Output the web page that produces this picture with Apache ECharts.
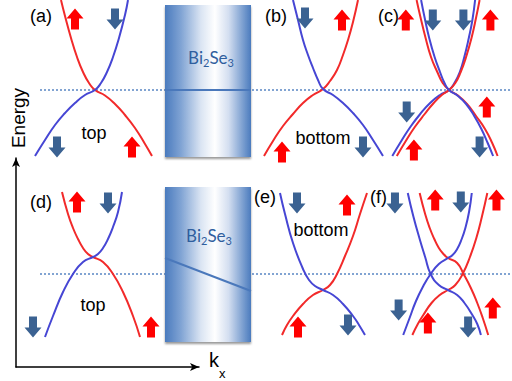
<!DOCTYPE html>
<html><head><meta charset="utf-8">
<script src="https://cdn.jsdelivr.net/npm/echarts@6/dist/echarts.min.js"></script>
<style>html,body{margin:0;padding:0;background:#fff}#c{width:512px;height:381px}</style>
</head><body><div id="c"></div>
<script>
// ---- data: band curves [k, E] per panel (k relative to Dirac centre, E relative to Fermi level) ----
const aRed  = [[-34,90],[-30,74],[-24,52],[-18,33],[-12,18],[-6,7],[0,0],[10,-5.5],[20,-14],[30,-25],[40,-38],[50,-54],[57,-66]];
const aBlue = [[-60,-66],[-50,-50],[-40,-35],[-30,-23],[-20,-13],[-10,-5],[0,0],[6,7],[12,18],[18,33],[24,52],[30,75],[33,90]];
const bBlue = [[-30,90],[-25,70],[-20,50],[-15,35],[-10,22],[-5,10],[0,1],[10,-5],[20,-13],[30,-23],[40,-35],[50,-50],[60,-66]];
const bRed  = [[-59,-66],[-50,-51],[-40,-36],[-30,-24],[-20,-13],[-10,-5],[0,1],[7,9],[14,20],[20,35],[25,50],[30,68],[35,90]];
const cRed1  = [[-36,90],[-32,74],[-26,52],[-20,33],[-13,18],[-7,7],[0,0],[10,-5.5],[20,-14],[30,-26],[40,-39],[48,-53],[54,-66]];
const cBlue1 = [[-63,-66],[-53,-51],[-43,-37],[-32,-24],[-21,-13],[-10,-5],[0,0],[6,7],[12,18],[17,33],[22,52],[26,70],[29,90]];
const cRed2  = [[-58,-66],[-48,-51],[-38,-37],[-27,-24],[-17,-13],[-8,-5],[0,0],[7,7],[13,18],[19,33],[25,52],[30,72],[34,90]];
const cBlue2 = [[-31,90],[-27,72],[-22,52],[-16,33],[-10,18],[-5,7],[0,0],[10,-6],[19,-14],[28,-26],[36,-39],[43,-53],[49,-66]];
const dRed  = [[-31,82],[-25,60],[-20,46],[-15,35],[-10,26],[-5,20],[0,17],[10,12],[20,0],[30,-18],[40,-42],[47,-63]];
const dBlue = [[-48,-63],[-40,-42],[-30,-18],[-20,0],[-10,12],[0,17],[5,20],[10,26],[15,35],[20,47],[25,62],[29,82]];
const eBlue = [[-43,81],[-38,60],[-30,31],[-20,5],[-14,-6],[-8,-12],[0,-16],[10,-21],[20,-30],[30,-42],[36,-51],[42,-61]];
const eRed  = [[-41,-61],[-36,-51],[-30,-42],[-20,-30],[-10,-21],[0,-16],[7,-11],[14,0],[22,18],[30,38],[37,60],[44,81]];
const fRed1  = [[-31,81],[-25,60],[-20,46],[-15,35],[-10,26],[-5,20],[0,16],[10,11],[17,0],[25,-14],[32,-29],[38,-44],[44,-61]];
const fBlue1 = [[-49,-61],[-42,-44],[-35,-27],[-27,-12],[-19,0],[-10,10],[0,16],[5,19],[10,25],[15,35],[19,46],[23,62],[26,81]];
const fRed2  = [[-39,-61],[-33,-50],[-27,-41],[-18,-29],[-9,-21],[0,-16],[8,-11],[16,0],[24,17],[31,36],[37,57],[43,81]];
const fBlue2 = [[-44,81],[-38,58],[-31,35],[-25,17],[-19,0],[-10,-11],[0,-16],[10,-21],[18,-29],[26,-40],[32,-50],[36,-61]];

// spin arrows (centre [k, E])
const aUp = [[-20,71],[37,-57]],  aDown = [[20,71],[-38,-57]];
const bUp = [[19,70],[-41,-62]],  bDown = [[-18,72],[40,-57]];
const cUp = [[-48,70],[46,70],[42,-17],[-39,-60]], cDown = [[-18,70],[16,70],[-47,-22],[34,-57]];
const dUp = [[-16,72],[58,-53]],  dDown = [[15,71],[-60,-53]];
const eUp = [[24,69],[-25,-53]],  eDown = [[-26,71],[25,-51]];
const fUp = [[-14,74],[53,74],[-22,-49],[49,-34]], fDown = [[-58,71],[14,72],[-54,-36],[22,-53]];

// Bi2Se3 bulk band line and Fermi level
const bulkLineTop = [[-43,0],[43,0]];
const bulkLineBottom = [[-43,16],[43,-17]];
const fermiTop = [[40,0],[512,0]];
const fermiBottom = [[40,0],[512,0]];

const panelLabels = ['(a)','(b)','(c)','(d)','(e)','(f)'];

// ---- layout / styles ----
const RED = '#f22a2a', BLUE = '#4646d4', ARROW_RED = '#ff0000', ARROW_BLUE = '#3b6292';
const rowTop = [0, 184];
const panelCx = [95, 323, 456, 93, 323, 454];
const grids = [], xAxes = [], yAxes = [], series = [];
function addGrid(left, top, width, xmin, xmax) {
  grids.push({left, top, width, height: 160});
  xAxes.push({type:'value', gridIndex: grids.length-1, min: xmin, max: xmax, show: false});
  yAxes.push({type:'value', gridIndex: grids.length-1, min: -70, max: 90, show: false});
  return grids.length - 1;
}
const pg = panelCx.map((cx, i) => addGrid(cx - 70, rowTop[i < 3 ? 0 : 1], 140, -70, 70));
const rowG = [addGrid(0, rowTop[0], 512, 0, 512), addGrid(0, rowTop[1], 512, 0, 512)];
const boxG = [addGrid(165, rowTop[0], 86, -43, 43), addGrid(165, rowTop[1], 86, -43, 43)];

function curve(data, color, gi) {
  series.push({type:'line', xAxisIndex: gi, yAxisIndex: gi, data, smooth: true, symbol: 'none',
    lineStyle: {color, width: 2}, z: 3, clip: false, silent: true, animation: false});
}
const UP = 'path://M8.5,0L17,10L12.5,10L12.5,21L4.5,21L4.5,10L0,10Z';
const DOWN = 'path://M4.5,0L12.5,0L12.5,11L17,11L8.5,21L0,11L4.5,11Z';
function arrows(data, up, gi) {
  series.push({type:'scatter', xAxisIndex: gi, yAxisIndex: gi, data, symbol: up ? UP : DOWN,
    symbolSize: [17, 21], itemStyle: {color: up ? ARROW_RED : ARROW_BLUE, opacity: 1}, z: 4, clip: false, silent: true, animation: false});
}
// Fermi level dotted lines
[fermiTop, fermiBottom].forEach((d, i) => series.push({type:'line', xAxisIndex: rowG[i], yAxisIndex: rowG[i], data: d,
  symbol: 'none', lineStyle: {color: '#5a86c4', width: 1.5, type: [2, 2]}, z: 1, silent: true, animation: false}));
// bulk lines inside boxes
[bulkLineTop, bulkLineBottom].forEach((d, i) => series.push({type:'line', xAxisIndex: boxG[i], yAxisIndex: boxG[i], data: d,
  symbol: 'none', lineStyle: {color: '#4a78bb', width: 2}, z: 10, silent: true, animation: false}));

curve(aRed, RED, pg[0]); curve(aBlue, BLUE, pg[0]);
curve(bRed, RED, pg[1]); curve(bBlue, BLUE, pg[1]);
curve(cRed1, RED, pg[2]); curve(cBlue1, BLUE, pg[2]); curve(cRed2, RED, pg[2]); curve(cBlue2, BLUE, pg[2]);
curve(dRed, RED, pg[3]); curve(dBlue, BLUE, pg[3]);
curve(eRed, RED, pg[4]); curve(eBlue, BLUE, pg[4]);
curve(fRed1, RED, pg[5]); curve(fBlue1, BLUE, pg[5]); curve(fRed2, RED, pg[5]); curve(fBlue2, BLUE, pg[5]);
[[aUp,aDown],[bUp,bDown],[cUp,cDown],[dUp,dDown],[eUp,eDown],[fUp,fDown]].forEach((p, i) => {
  arrows(p[0], true, pg[i]); arrows(p[1], false, pg[i]);
});

// axes grid (Energy / k_x arrows)
grids.push({left: 16, top: 158, width: 183, height: 209});
const axG = grids.length - 1;
const axLine = {show: true, onZero: false, symbol: ['none','arrow'], symbolSize: [6, 9], lineStyle: {color: '#000', width: 1.5}};
xAxes.push({type:'value', gridIndex: axG, min: 0, max: 1, axisLine: axLine, axisTick:{show:false}, axisLabel:{show:false}, splitLine:{show:false}});
yAxes.push({type:'value', gridIndex: axG, min: 0, max: 1, axisLine: axLine, axisTick:{show:false}, axisLabel:{show:false}, splitLine:{show:false}});

const FONT = '"Liberation Sans", Arial, sans-serif';
const gradient = {type:'linear', x:0, y:0, x2:1, y2:0, colorStops:[
  {offset:0, color:'#4b7bbe'}, {offset:0.18, color:'#7ea2d3'}, {offset:0.42, color:'#dbe5f3'},
  {offset:0.58, color:'#ffffff'}, {offset:0.74, color:'#d3def0'}, {offset:0.9, color:'#7ea1d1'}, {offset:1, color:'#4b7bbe'}]};
function box(y, h) {
  return {type:'rect', shape:{x:165, y, width:86, height:h}, z: 5, silent: true,
    style:{fill: gradient, shadowColor:'rgba(0,0,0,0.4)', shadowBlur:2, shadowOffsetY:2}};
}
function txt(text, x, y, size, extra) {
  return Object.assign({type:'text', x, y, z: 20, silent: true,
    style:{text, fill:'#000', font: size + 'px ' + FONT, align:'left', verticalAlign:'middle'}}, extra || {});
}
function bise(x, y) {
  return {type:'text', x, y, z: 20, silent: true, style:{
    text:'{n|Bi}{s|2}{n|Se}{s|3}', align:'center', verticalAlign:'middle', fill:'#2f5e9e',
    rich:{n:{fontSize:17, fontFamily:'Lato, "Open Sans", sans-serif', lineHeight:22, fill:'#2f5e9e'},
          s:{fontSize:11, fontFamily:'Lato, "Open Sans", sans-serif', lineHeight:11, verticalAlign:'bottom', fill:'#2f5e9e'}}}};
}
const labelPos = [[30,16],[265,16],[378,16],[30,202],[254,197],[370,197]];
const graphics = [box(5, 152), box(187, 155), bise(211, 57), bise(209, 235)];
panelLabels.forEach((t, i) => graphics.push(txt(t, labelPos[i][0], labelPos[i][1], 18)));
graphics.push(txt('top', 94, 133, 18, {style:{text:'top', fill:'#000', font:'18px '+FONT, align:'center', verticalAlign:'middle'}}));
graphics.push(txt('top', 93, 305, 18, {style:{text:'top', fill:'#000', font:'18px '+FONT, align:'center', verticalAlign:'middle'}}));
graphics.push(txt('bottom', 323, 138, 18, {style:{text:'bottom', fill:'#000', font:'18px '+FONT, align:'center', verticalAlign:'middle'}}));
graphics.push(txt('bottom', 321, 230, 18, {style:{text:'bottom', fill:'#000', font:'18px '+FONT, align:'center', verticalAlign:'middle'}}));
graphics.push({type:'text', x:18, y:118, rotation: Math.PI/2, z:20, silent:true,
  style:{text:'Energy', fill:'#000', font:'19px '+FONT, align:'center', verticalAlign:'middle'}});
graphics.push(txt('k', 209, 360, 20));
graphics.push(txt('x', 219, 373, 13));

const chart = echarts.init(document.getElementById('c'), null, {renderer:'svg', width:512, height:381});
chart.setOption({animation:false, backgroundColor:'#fff', grid: grids, xAxis: xAxes, yAxis: yAxes, series, graphic: graphics});
</script></body></html>
